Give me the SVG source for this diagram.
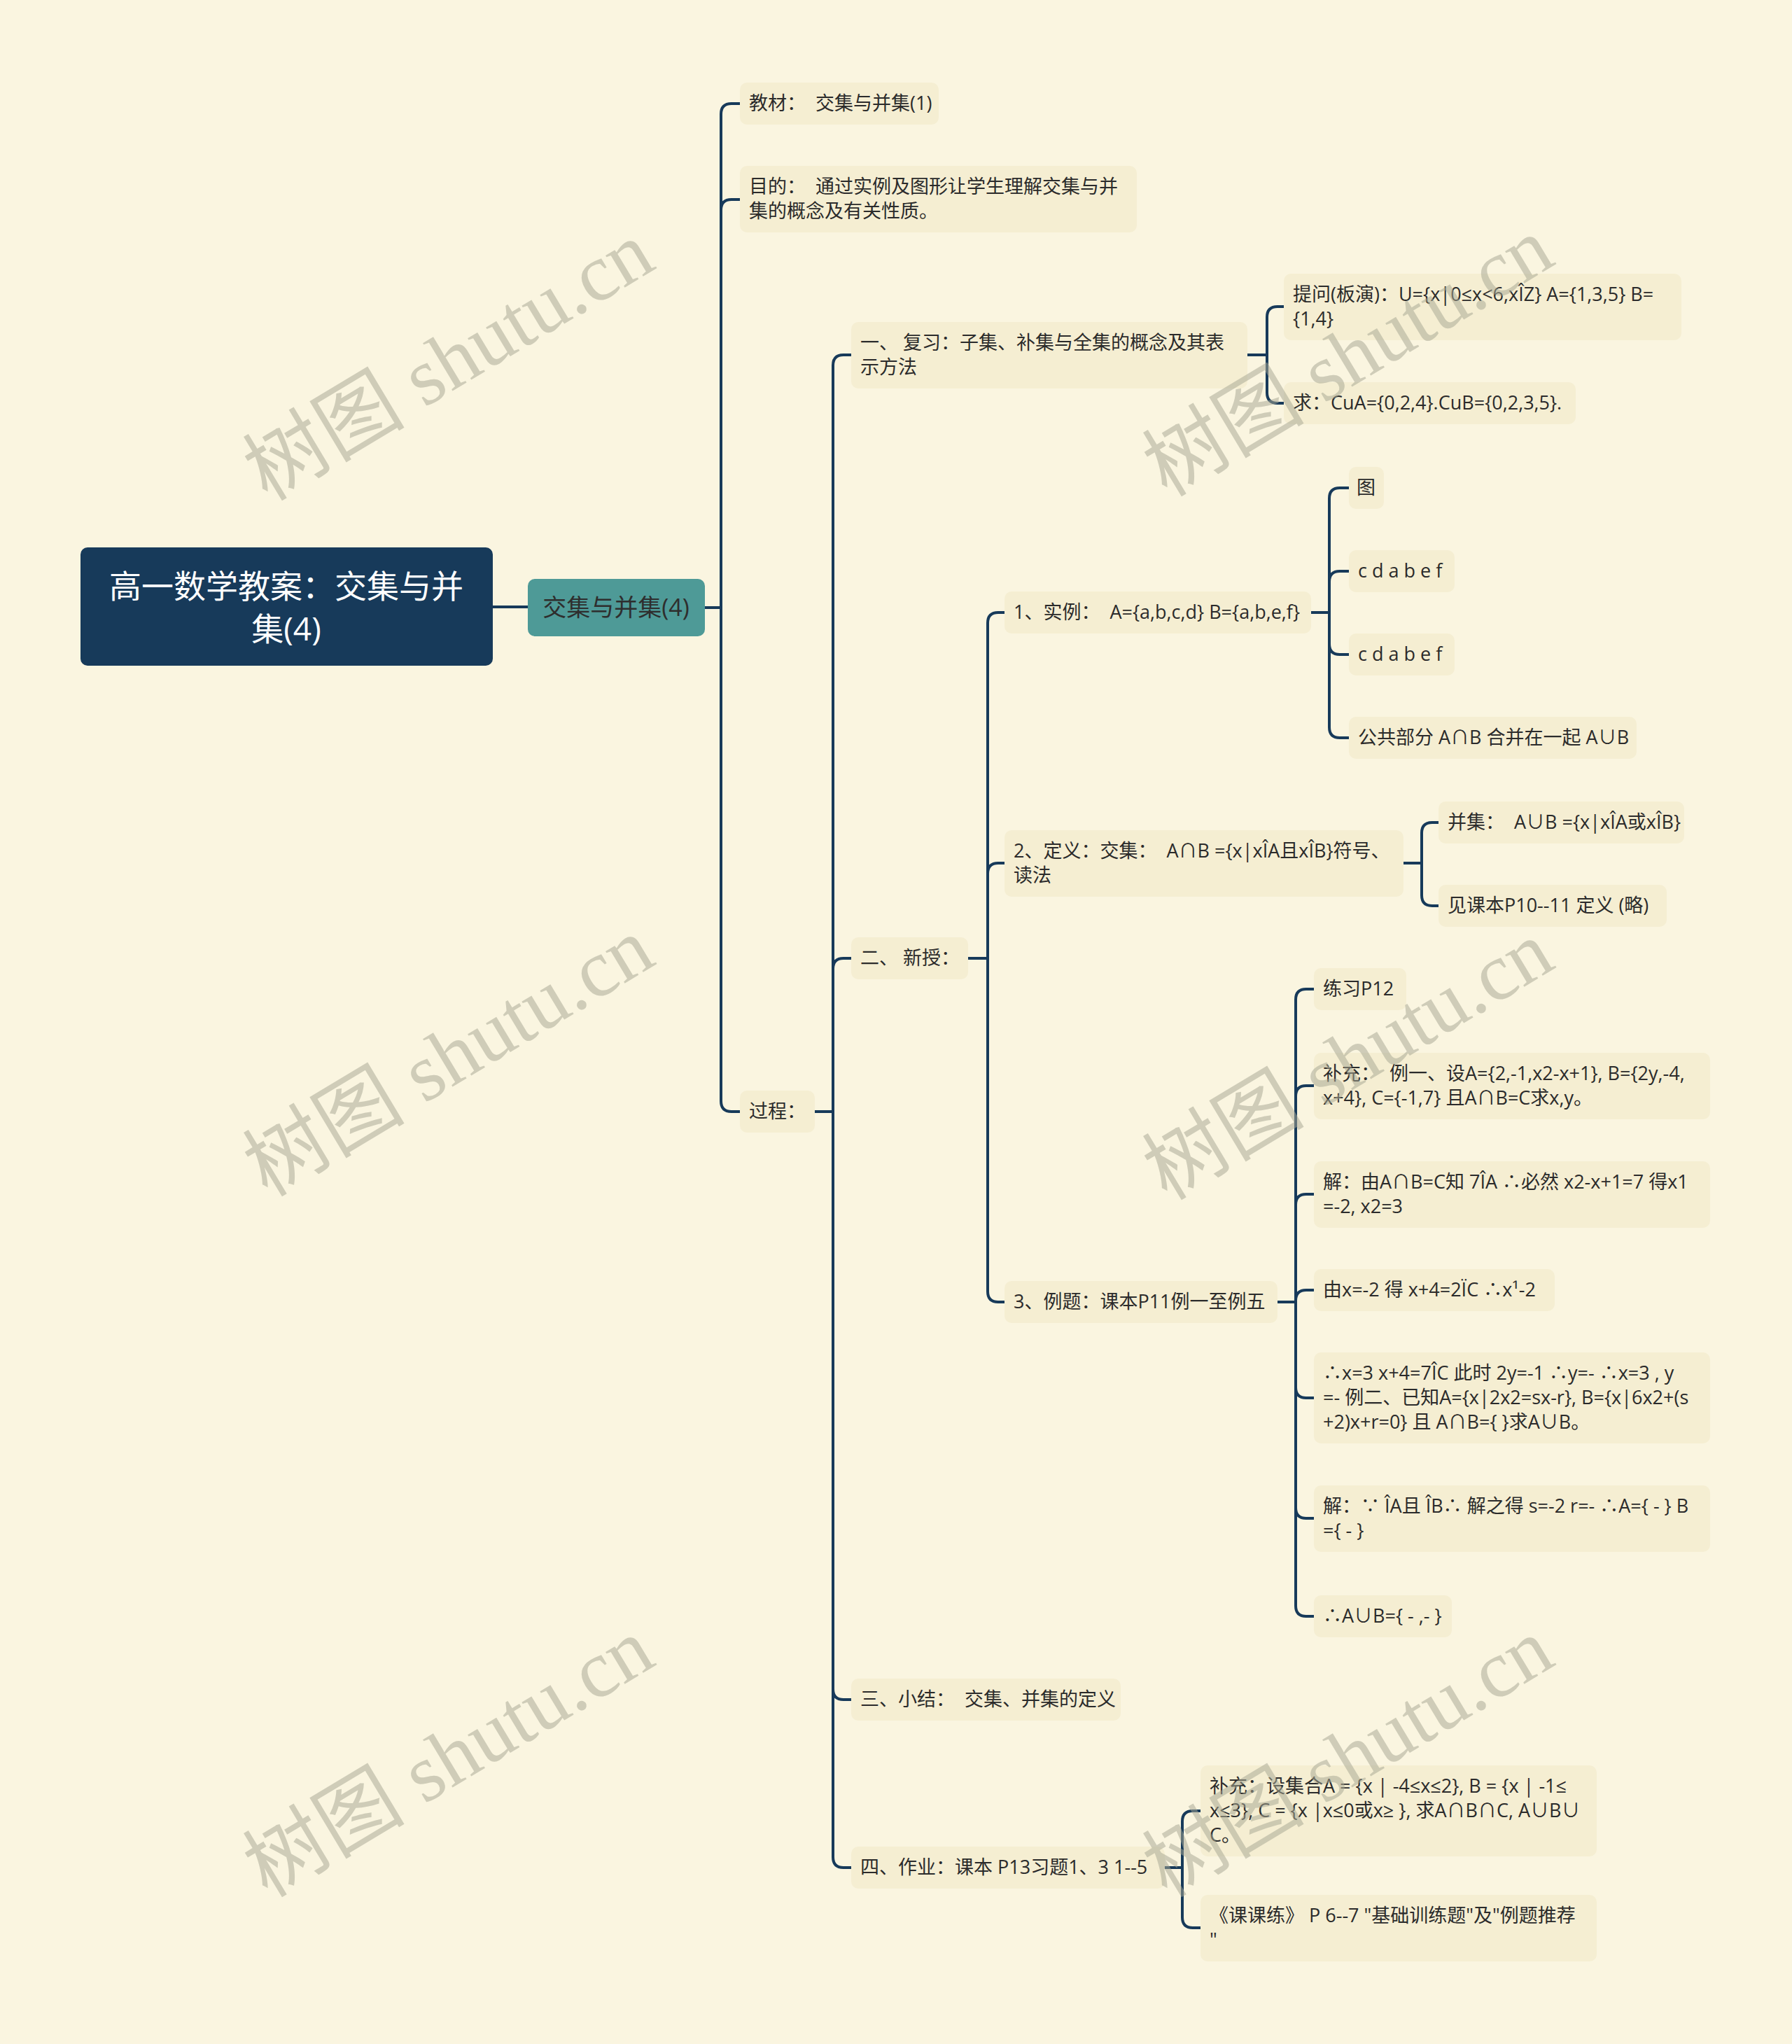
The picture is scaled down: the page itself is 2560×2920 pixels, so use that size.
<svg xmlns="http://www.w3.org/2000/svg" width="2560" height="2920" viewBox="0 0 2560 2920">
<style>
.bg{fill:#faf5e0}
.n{fill:#f5eed2}
.t{font-family:"Open Sans","Noto Sans CJK SC",sans-serif;font-size:27px;fill:#2b2b2b;white-space:pre}
.c{fill:none;stroke:#173a5a;stroke-width:4;stroke-linecap:round}
.wm{font-family:"Liberation Serif","Noto Sans CJK SC",serif;font-size:116px;fill:#a8a894;opacity:0.52}
</style>
<rect class="bg" x="0" y="0" width="2560" height="2920"/>
<g id="connectors">
<path class="c" d="M704 867 H754"/>
<path class="c" d="M1007 868 H1030"/>
<path class="c" d="M1030 868 V163 Q1030 148 1045 148 H1057"/>
<path class="c" d="M1030 868 V300 Q1030 285 1045 285 H1057"/>
<path class="c" d="M1030 868 V1573 Q1030 1588 1045 1588 H1057"/>
<path class="c" d="M1164 1588 H1190"/>
<path class="c" d="M1190 1588 V522 Q1190 507 1205 507 H1216"/>
<path class="c" d="M1190 1588 V1384 Q1190 1369 1205 1369 H1216"/>
<path class="c" d="M1190 1588 V2413 Q1190 2428 1205 2428 H1216"/>
<path class="c" d="M1190 1588 V2653 Q1190 2668 1205 2668 H1216"/>
<path class="c" d="M1782 507 H1810"/>
<path class="c" d="M1810 507 V453 Q1810 438 1825 438 H1834"/>
<path class="c" d="M1810 507 V561 Q1810 576 1825 576 H1834"/>
<path class="c" d="M1383 1369 H1411"/>
<path class="c" d="M1411 1369 V890 Q1411 875 1426 875 H1435"/>
<path class="c" d="M1411 1369 V1248 Q1411 1233 1426 1233 H1435"/>
<path class="c" d="M1411 1369 V1845 Q1411 1860 1426 1860 H1435"/>
<path class="c" d="M1873 875 H1899"/>
<path class="c" d="M1899 875 V712 Q1899 697 1914 697 H1927"/>
<path class="c" d="M1899 875 V831 Q1899 816 1914 816 H1927"/>
<path class="c" d="M1899 875 V920 Q1899 935 1914 935 H1927"/>
<path class="c" d="M1899 875 V1039 Q1899 1054 1914 1054 H1927"/>
<path class="c" d="M2005 1233 H2031"/>
<path class="c" d="M2031 1233 V1190 Q2031 1175 2046 1175 H2055"/>
<path class="c" d="M2031 1233 V1279 Q2031 1294 2046 1294 H2055"/>
<path class="c" d="M1825 1860 H1851"/>
<path class="c" d="M1851 1860 V1428 Q1851 1413 1866 1413 H1877"/>
<path class="c" d="M1851 1860 V1566 Q1851 1551 1866 1551 H1877"/>
<path class="c" d="M1851 1860 V1721 Q1851 1706 1866 1706 H1877"/>
<path class="c" d="M1851 1860 V1858 Q1851 1843 1866 1843 H1877"/>
<path class="c" d="M1851 1860 V1982 Q1851 1997 1866 1997 H1877"/>
<path class="c" d="M1851 1860 V2154 Q1851 2169 1866 2169 H1877"/>
<path class="c" d="M1851 1860 V2294 Q1851 2309 1866 2309 H1877"/>
<path class="c" d="M1664 2668 H1689"/>
<path class="c" d="M1689 2668 V2602 Q1689 2587 1704 2587 H1715"/>
<path class="c" d="M1689 2668 V2739 Q1689 2754 1704 2754 H1715"/>
</g>
<g id="root">
<rect x="115" y="782" width="589" height="169" rx="10" fill="#173a5a"/>
<text x="409" y="854" text-anchor="middle" font-family="Open Sans, Noto Sans CJK SC, sans-serif" font-size="46" fill="#ffffff">高一数学教案：交集与并</text>
<text x="409" y="915" text-anchor="middle" font-family="Open Sans, Noto Sans CJK SC, sans-serif" font-size="46" fill="#ffffff">集(4)</text>
</g>
<g id="l1">
<rect x="754" y="827" width="253" height="82" rx="10" fill="#4e9a97"/>
<text x="880" y="880" text-anchor="middle" font-family="Open Sans, Noto Sans CJK SC, sans-serif" font-size="34" fill="#2e2e2e">交集与并集(4)</text>
</g>
<g id="n-jiaocai"><rect class="n" x="1057" y="118" width="284" height="60" rx="10"/><text class="t" x="1070" y="157">教材：  交集与并集(1)</text></g>
<g id="n-mudi"><rect class="n" x="1057" y="237" width="567" height="95" rx="10"/><text class="t" x="1070" y="276">目的：  通过实例及图形让学生理解交集与并</text><text class="t" x="1070" y="311">集的概念及有关性质。</text></g>
<g id="n-guocheng"><rect class="n" x="1057" y="1558" width="107" height="60" rx="10"/><text class="t" x="1070" y="1597">过程：</text></g>
<g id="n-fuxi"><rect class="n" x="1216" y="460" width="566" height="95" rx="10"/><text class="t" x="1229" y="499">一、 复习：子集、补集与全集的概念及其表</text><text class="t" x="1229" y="534">示方法</text></g>
<g id="n-tiwen"><rect class="n" x="1834" y="391" width="568" height="95" rx="10"/><text class="t" x="1847" y="430">提问(板演)：U={x|0≤x&lt;6,xÎZ} A={1,3,5} B=</text><text class="t" x="1847" y="465">{1,4}</text></g>
<g id="n-qiu"><rect class="n" x="1834" y="546" width="417" height="60" rx="10"/><text class="t" x="1847" y="585">求：CuA={0,2,4}.CuB={0,2,3,5}.</text></g>
<g id="n-xinshou"><rect class="n" x="1216" y="1339" width="167" height="60" rx="10"/><text class="t" x="1229" y="1378">二、 新授：</text></g>
<g id="n-shili"><rect class="n" x="1435" y="845" width="438" height="60" rx="10"/><text class="t" x="1448" y="884">1、实例：  A={a,b,c,d} B={a,b,e,f}</text></g>
<g id="n-tu"><rect class="n" x="1927" y="667" width="50" height="60" rx="10"/><text class="t" x="1938" y="706">图</text></g>
<g id="n-cd1"><rect class="n" x="1927" y="786" width="151" height="60" rx="10"/><text class="t" x="1940" y="825">c d a b e f</text></g>
<g id="n-cd2"><rect class="n" x="1927" y="905" width="151" height="60" rx="10"/><text class="t" x="1940" y="944">c d a b e f</text></g>
<g id="n-gonggong"><rect class="n" x="1927" y="1024" width="411" height="60" rx="10"/><text class="t" x="1940" y="1063">公共部分 A∩B 合并在一起 A∪B</text></g>
<g id="n-dingyi"><rect class="n" x="1435" y="1186" width="570" height="95" rx="10"/><text class="t" x="1448" y="1225">2、定义：交集：  A∩B ={x|xÎA且xÎB}符号、</text><text class="t" x="1448" y="1260">读法</text></g>
<g id="n-bingji"><rect class="n" x="2055" y="1145" width="351" height="60" rx="10"/><text class="t" x="2068" y="1184">并集：  A∪B ={x|xÎA或xÎB}</text></g>
<g id="n-jiankeben"><rect class="n" x="2055" y="1264" width="326" height="60" rx="10"/><text class="t" x="2068" y="1303">见课本P10--11 定义 (略)</text></g>
<g id="n-liti"><rect class="n" x="1435" y="1830" width="390" height="60" rx="10"/><text class="t" x="1448" y="1869">3、例题：课本P11例一至例五</text></g>
<g id="n-lianxi"><rect class="n" x="1877" y="1383" width="132" height="60" rx="10"/><text class="t" x="1890" y="1422">练习P12</text></g>
<g id="n-buchong1"><rect class="n" x="1877" y="1504" width="566" height="95" rx="10"/><text class="t" x="1890" y="1543">补充：  例一、设A={2,-1,x2-x+1}, B={2y,-4,</text><text class="t" x="1890" y="1578">x+4}, C={-1,7} 且A∩B=C求x,y。</text></g>
<g id="n-jie1"><rect class="n" x="1877" y="1659" width="566" height="95" rx="10"/><text class="t" x="1890" y="1698">解：由A∩B=C知 7ÎA ∴必然 x2-x+1=7 得x1</text><text class="t" x="1890" y="1733">=-2, x2=3</text></g>
<g id="n-youx"><rect class="n" x="1877" y="1813" width="344" height="60" rx="10"/><text class="t" x="1890" y="1852">由x=-2 得 x+4=2ÏC ∴x¹-2</text></g>
<g id="n-x3"><rect class="n" x="1877" y="1932" width="566" height="130" rx="10"/><text class="t" x="1890" y="1971">∴x=3 x+4=7ÎC 此时 2y=-1 ∴y=- ∴x=3 , y</text><text class="t" x="1890" y="2006">=- 例二、已知A={x|2x2=sx-r}, B={x|6x2+(s</text><text class="t" x="1890" y="2041">+2)x+r=0} 且 A∩B={ }求A∪B。</text></g>
<g id="n-jie2"><rect class="n" x="1877" y="2122" width="566" height="95" rx="10"/><text class="t" x="1890" y="2161">解：∵ ÎA且 ÎB∴ 解之得 s=-2 r=- ∴A={ - } B</text><text class="t" x="1890" y="2196">={ - }</text></g>
<g id="n-aub"><rect class="n" x="1877" y="2279" width="197" height="60" rx="10"/><text class="t" x="1890" y="2318">∴A∪B={ - ,- }</text></g>
<g id="n-xiaojie"><rect class="n" x="1216" y="2398" width="385" height="60" rx="10"/><text class="t" x="1229" y="2437">三、小结：  交集、并集的定义</text></g>
<g id="n-zuoye"><rect class="n" x="1216" y="2638" width="448" height="60" rx="10"/><text class="t" x="1229" y="2677">四、作业：课本 P13习题1、3 1--5</text></g>
<g id="n-buchong2"><rect class="n" x="1715" y="2522" width="566" height="130" rx="10"/><text class="t" x="1728" y="2561">补充：设集合A = {x | -4≤x≤2}, B = {x | -1≤</text><text class="t" x="1728" y="2596">x≤3}, C = {x |x≤0或x≥ }, 求A∩B∩C, A∪B∪</text><text class="t" x="1728" y="2631">C。</text></g>
<g id="n-keke"><rect class="n" x="1715" y="2707" width="566" height="95" rx="10"/><text class="t" x="1728" y="2746">《课课练》 P 6--7 "基础训练题"及"例题推荐</text><text class="t" x="1728" y="2781">"</text></g>
<g id="watermarks">
<text class="wm" x="642" y="555" text-anchor="middle" transform="rotate(-31 642 518)">树图 shutu.cn</text>
<text class="wm" x="1927" y="549" text-anchor="middle" transform="rotate(-31 1927 512)">树图 shutu.cn</text>
<text class="wm" x="642" y="1549" text-anchor="middle" transform="rotate(-31 642 1512)">树图 shutu.cn</text>
<text class="wm" x="1927" y="1554" text-anchor="middle" transform="rotate(-31 1927 1517)">树图 shutu.cn</text>
<text class="wm" x="642" y="2550" text-anchor="middle" transform="rotate(-31 642 2513)">树图 shutu.cn</text>
<text class="wm" x="1927" y="2550" text-anchor="middle" transform="rotate(-31 1927 2513)">树图 shutu.cn</text>
</g>
</svg>
